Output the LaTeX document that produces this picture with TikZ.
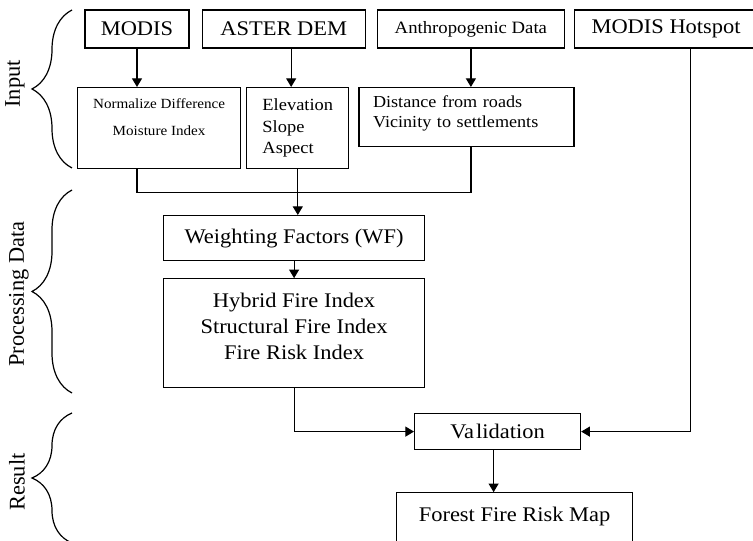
\documentclass[tikz,border=0pt]{standalone}
\usepackage{fontspec}
\setmainfont{Liberation Serif}[FakeStretch=1.08]
\newfontfamily\sidefont{Liberation Serif}
\usetikzlibrary{arrows.meta,positioning,calc,decorations.pathreplacing}

\begin{document}
\begin{tikzpicture}[
  x=0.75pt, y=-0.75pt,
  line width=0.9pt,
  flow/.style={-{Triangle[length=6.5pt,width=7.5pt]}},
  link/.style={-},
  src/.style={
    draw, minimum height=28.5pt, inner sep=2pt,
    font=\fontsize{15.6}{18}\selectfont
  },
  layer/.style={draw, inner sep=2pt, align=center, minimum height=60.75pt},
  proc/.style={
    draw, inner sep=2pt, align=center, minimum width=195.75pt,
    font=\fontsize{15.6}{19.3}\selectfont
  },
  result/.style={draw, inner sep=2pt, font=\fontsize{15.6}{18}\selectfont},
  grp/.style={decorate, decoration={brace, amplitude=30pt}},
  side/.style={font=\sidefont\fontsize{16.8}{20}\selectfont, rotate=90}
]
\useasboundingbox (0,0) rectangle (753,541);

% Data sources
\node[src, minimum width=78pt] (modis) at (137,29) {MODIS};
\node[src, minimum width=122.25pt, right=9pt of modis] (aster) {ASTER DEM};
\node[src, minimum width=140.25pt, right=8.25pt of aster,
      font=\fontsize{13}{15}\selectfont] (anthro) {Anthropogenic Data};
\node[src, minimum width=137.25pt, right=6.75pt of anthro] (hotspot) {MODIS Hotspot};

% Derived layers
\node[layer, minimum width=122.25pt, anchor=north west,
      font=\fontsize{10.5}{20}\selectfont] (ndmi) at (77,87)
      {Normalize Difference\\Moisture Index\rule[-16.4pt]{0pt}{0pt}};
\node[layer, minimum width=76.5pt, align=left,
      right=3.75pt of ndmi.north east, anchor=north west,
      font=\fontsize{12.8}{16.1}\selectfont] (elev) {Elevation\\Slope\\Aspect};
\node[draw, align=left, text width=140.25pt, inner xsep=10.5pt, inner ysep=2pt,
      minimum height=44.25pt, right=6.75pt of elev.north east, anchor=north west,
      font=\fontsize{12.6}{15.5}\selectfont] (dist)
      {Distance from roads\\Vicinity to settlements\rule[-8.5pt]{0pt}{0pt}};

\draw[flow] (modis.south) -- (modis.south |- ndmi.north);
\draw[flow] ([xshift=5.6pt]aster.south) coordinate (as) -- (as |- elev.north);
\draw[flow] (anthro.south) -- (anthro.south |- dist.north);

% Merge into weighting
\node[proc, minimum height=33.75pt, anchor=north west] (wf) at (163,215) {Weighting Factors (WF)};
\node[proc, minimum height=81.75pt, below=12.75pt of wf] (hfi)
      {Hybrid Fire Index\\Structural Fire Index\\Fire Risk Index\rule[-10.4pt]{0pt}{0pt}};

\coordinate (jn) at ($(ndmi.south -| anthro.south)+(0,23)$);
\draw[link] (ndmi.south -| modis.south) |- (jn) -- (dist.south -| jn);
\draw[flow] (elev.south) -- (elev.south |- wf.north);
\draw[flow] (wf) -- (hfi);

% Result
\node[result, minimum width=124.5pt, minimum height=27pt, anchor=north west] (valid)
      at (414,413) {Va\kern1.5pt lidation};
\node[result, minimum width=177pt, minimum height=51.75pt,
      below=31.5pt of valid, xshift=12.75pt] (map)
      {Forest Fire Risk Map\rule[-19pt]{0pt}{0pt}};

\draw[flow] (hfi.south) |- (valid.west);
\draw[flow] ([xshift=18.4pt]hotspot.south) |- (valid.east);
\draw[flow] ([xshift=-3pt]valid.south) coordinate (vs) -- (vs |- map.north);

% Stage braces
\draw[grp] (72,168) -- (72,10);
\draw[grp] (72,393) -- (72,190);
\draw[grp] (72,543) -- (72,413);
\node[side] (lin) at (15,84) {Input};
\node[side] (lproc) at (19,294) {Processing Data};
\node[side] (lres) at (17,482) {Result};

\end{tikzpicture}
\end{document}
